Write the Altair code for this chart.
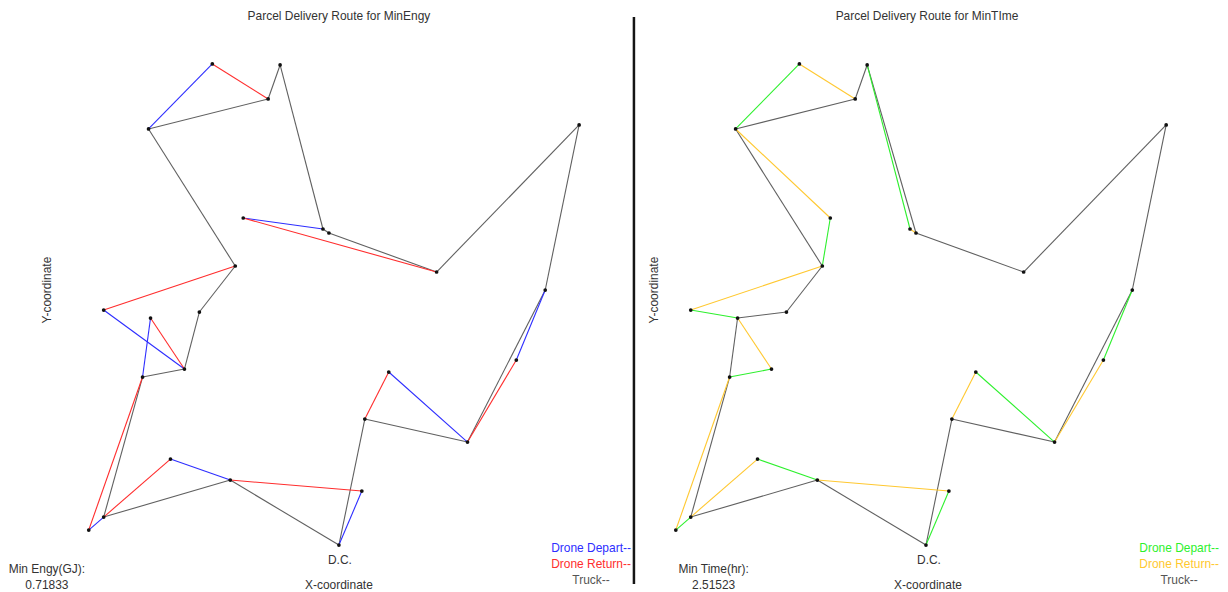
import altair as alt
import pandas as pd

# ---------------- data ----------------
node_names = ["DC", "c1", "c2", "c3", "c4", "c5", "c6", "c7", "c8", "c9", "c10", "c11", "c12",
              "c13", "c14", "c15", "c16", "c17", "c18", "c19", "c20", "c21", "c22", "c23", "c24", "c25"]
node_x = [25.2, 27.8, 38.1, 43.0, 45.9, 49.3, 35.0, 24.2, 23.6, 15.6, 19.3, 18.1, 12.5,
          6.1, 14.8, 11.2, 9.7, 6.3, 1.6, 5.5, 0.1, 1.6, 8.3, 14.3, 27.5, 30.2]
node_y = [0.0, 12.6, 10.3, 18.5, 25.5, 42.0, 27.3, 31.2, 31.6, 32.7, 48.0, 44.6, 48.1,
          41.6, 27.9, 23.3, 17.6, 22.7, 23.5, 16.8, 1.5, 2.8, 8.6, 6.5, 5.4, 17.3]

engy_truck = [("DC", "c1"), ("c1", "c2"), ("c2", "c4"), ("c4", "c5"), ("c5", "c6"), ("c6", "c7"),
              ("c7", "c8"), ("c8", "c10"), ("c10", "c11"), ("c11", "c13"), ("c13", "c14"),
              ("c14", "c15"), ("c15", "c16"), ("c16", "c19"), ("c19", "c21"), ("c21", "c23"),
              ("c23", "DC")]
engy_depart = [("DC", "c24"), ("c23", "c22"), ("c21", "c20"), ("c19", "c17"), ("c16", "c18"),
               ("c13", "c12"), ("c8", "c9"), ("c4", "c3"), ("c2", "c25")]
engy_return = [("c24", "c23"), ("c22", "c21"), ("c20", "c19"), ("c17", "c16"), ("c18", "c14"),
               ("c12", "c11"), ("c9", "c6"), ("c3", "c2"), ("c25", "c1")]

time_truck = [("DC", "c23"), ("c23", "c21"), ("c21", "c19"), ("c19", "c17"), ("c17", "c15"),
              ("c15", "c14"), ("c14", "c13"), ("c13", "c11"), ("c11", "c10"), ("c10", "c7"),
              ("c7", "c6"), ("c6", "c5"), ("c5", "c4"), ("c4", "c2"), ("c2", "c1"), ("c1", "DC")]
time_depart = [("DC", "c24"), ("c23", "c22"), ("c21", "c20"), ("c19", "c16"), ("c17", "c18"),
               ("c14", "c9"), ("c13", "c12"), ("c10", "c8"), ("c4", "c3"), ("c2", "c25")]
time_return = [("c24", "c23"), ("c22", "c21"), ("c20", "c19"), ("c16", "c17"), ("c18", "c14"),
               ("c9", "c13"), ("c12", "c11"), ("c8", "c7"), ("c3", "c2"), ("c25", "c1")]

min_engy = "0.71833"
min_time = "2.51523"

# ---------------- helpers ----------------
FONT = "Arial, Liberation Sans, sans-serif"
TXT = "#333333"
pos = {n: (x, y) for n, x, y in zip(node_names, node_x, node_y)}
nodes_df = pd.DataFrame({"name": node_names, "x": node_x, "y": node_y})
Y_DOMAIN = [-3.8, 53.6]
H = 576


def seg_df(truck, depart, ret):
    rows = []
    for kind, segs in (("Truck", truck), ("Depart", depart), ("Return", ret)):
        for a, b in segs:
            rows.append({"kind": kind, "x": pos[a][0], "y": pos[a][1],
                         "x2": pos[b][0], "y2": pos[b][1]})
    return pd.DataFrame(rows)


def label(text, x, y, color=TXT, size=12, angle=0):
    return alt.Chart(pd.DataFrame({"a": [0]})).mark_text(
        font=FONT, fontSize=size, color=color, angle=angle, align="center", baseline="middle"
    ).encode(x=alt.value(x), y=alt.value(y), text=alt.value(text))


def panel(truck, depart, ret, c_dep, c_ret, x_domain, width, title, title_x, ylab_x, cx,
          min_lab, min_val, min_x, leg_x, divider=False):
    xs = alt.Scale(domain=x_domain, nice=False, zero=False)
    ys = alt.Scale(domain=Y_DOMAIN, nice=False, zero=False)
    lines = alt.Chart(seg_df(truck, depart, ret)).mark_rule(strokeWidth=1.1).encode(
        x=alt.X("x:Q", scale=xs, axis=None),
        y=alt.Y("y:Q", scale=ys, axis=None),
        x2="x2:Q", y2="y2:Q",
        color=alt.Color("kind:N", scale=alt.Scale(domain=["Truck", "Depart", "Return"],
                                                  range=["#606060", c_dep, c_ret]), legend=None),
    )
    pts = alt.Chart(nodes_df).mark_circle(size=14, color="#111111", opacity=1).encode(
        x=alt.X("x:Q", scale=xs, axis=None),
        y=alt.Y("y:Q", scale=ys, axis=None),
    )
    layers = [lines, pts,
              label(title, title_x, 7),
              label("Y-coordinate", ylab_x, 282, angle=270),
              label("X-coordinate", cx, 578),
              label("D.C.", cx + 1, 553),
              label(min_lab, min_x, 562),
              label(min_val, min_x, 578),
              label("Drone Depart--", leg_x, 541, color=c_dep),
              label("Drone Return--", leg_x, 557, color=c_ret),
              label("Truck--", leg_x, 573, color="#555555")]
    if divider:
        layers.append(alt.Chart(pd.DataFrame({"a": [0]})).mark_rule(color="#151515", strokeWidth=2.5)
                      .encode(x=alt.value(1), y=alt.value(8), y2=alt.value(577)))
    return alt.layer(*layers).properties(width=width, height=H)


left = panel(engy_truck, engy_depart, engy_return, "#2d2dff", "#ff2d2d",
             [-7.8, 54.5], 623, "Parcel Delivery Route for MinEngy", 330, 37, 330,
             "Min Engy(GJ):", min_engy, 37, 583)
right = panel(time_truck, time_depart, time_return, "#2df02d", "#ffc830",
              [-4.2, 54.7], 589, "Parcel Delivery Route for MinTIme", 295, 21, 296,
              "Min Time(hr):", min_time, 81, 548, divider=True)

chart = alt.hconcat(left, right, spacing=0).resolve_scale(
    x="independent", y="independent", color="independent"
).configure_view(stroke=None).properties(
    padding={"left": 0, "top": 0, "right": 0, "bottom": 0}
)

chart.save("out.html", embed_options={"renderer": "svg", "actions": False})
